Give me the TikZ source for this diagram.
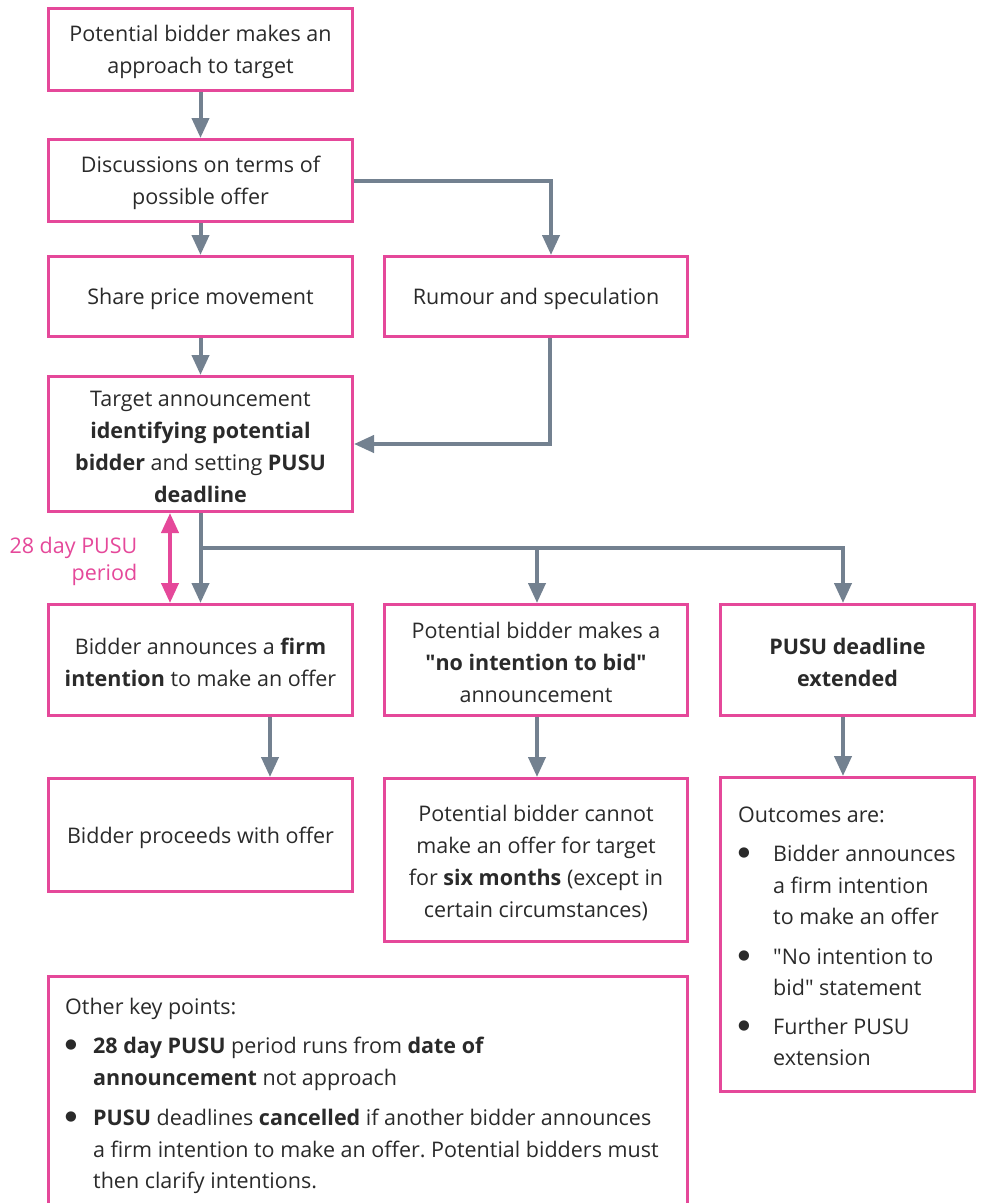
\documentclass[tikz,border=0pt]{standalone}
\usepackage{fontspec}
\setmainfont{Open Sans}
\newfontfamily\bulfont{DejaVu Sans}
\usetikzlibrary{arrows.meta}
\definecolor{pinkb}{HTML}{E5489A}
\definecolor{grayarrow}{HTML}{738190}
\definecolor{txt}{HTML}{2A2A2A}
\newcommand{\st}{\rule{0pt}{22pt}}
\newcommand{\bul}{\raisebox{5pt}{\bulfont\fontsize{13.5}{0}\selectfont ●}}
\newcommand{\qd}{\textquotedbl}
\frenchspacing
\begin{document}
\begin{tikzpicture}[x=1pt,y=-1pt,
  box/.style={draw=pinkb, line width=3pt, fill=white, align=center, inner sep=0pt,
    text=txt, font=\fontsize{21.5}{32}\selectfont},
  frame/.style={draw=pinkb, line width=3pt, fill=white, inner sep=0pt},
  listtext/.style={inner sep=0pt, text=txt, font=\fontsize{21.5}{31.5}\selectfont},
  conn/.style={draw=grayarrow, line width=4pt, -{Triangle[width=17pt,length=20pt]}},
  pinkarrow/.style={draw=pinkb, line width=4pt, {Triangle[width=17pt,length=20pt]}-{Triangle[width=17pt,length=20pt]}},
  pinklabel/.style={inner sep=0pt, text=pinkb, align=right, font=\fontsize{21.5}{27}\selectfont}
]
\useasboundingbox (0,0) rectangle (983,1203);
\fill[white] (0,0) rectangle (983,1203);

\coordinate (x170) at (170,0);
\coordinate (x270) at (270,0);
\coordinate (x537) at (537,0);
\coordinate (x550) at (550,0);
\coordinate (x551) at (551,0);
\coordinate (x843) at (843,0);

\node[box, minimum width=304, minimum height=82] (b1) at (200.5,49.5) {\st Potential bidder makes an\\approach to target};
\node[box, minimum width=304, minimum height=82] (b2) at (200.5,180.5) {\st Discussions on terms of\\possible offer};
\node[box, minimum width=304, minimum height=80] (b3) at (200.5,296.5) {\st Share price movement};
\node[box, minimum width=303, minimum height=80] (b4) at (536,296.5) {\st Rumour and speculation};
\node[box, minimum width=304, minimum height=135] (b5) at (200.5,444) {\st Target announcement\\\textbf{identifying potential}\\\textbf{bidder} and setting \textbf{PUSU}\\\textbf{deadline}};
\node[box, minimum width=304, minimum height=111] (b6) at (200.5,660) {\st Bidder announces a \textbf{firm}\\\textbf{intention} to make an offer};
\node[box, minimum width=303, minimum height=111] (b7) at (536,660) {\st Potential bidder makes a\\\textbf{\qd no intention to bid\qd}\\announcement};
\node[box, minimum width=254, minimum height=111] (b8) at (847.5,660) {\st\textbf{PUSU deadline}\\\textbf{extended}};
\node[box, minimum width=304, minimum height=113] (b9) at (200.5,835) {\st Bidder proceeds with offer};
\node[box, minimum width=303, minimum height=163] (b10) at (536,860) {\st Potential bidder cannot\\make an offer for target\\for \textbf{six months} (except in\\certain circumstances)};
\node[frame, minimum width=254, minimum height=314] (b11) at (847.5,934.5) {};
\node[listtext, anchor=west] (b11t) at (738,938) {%
\begin{tabular}{@{}p{35pt}@{}l@{}}
\multicolumn{2}{@{}l@{}}{Outcomes are:}\\[7.5pt]
\bul & Bidder announces\\
 & a firm intention\\
 & to make an offer\\[8pt]
\bul & \qd No intention to\\
 & bid\qd{} statement\\[7pt]
\bul & Further PUSU\\
 & extension
\end{tabular}};

\node[frame, anchor=north west, minimum width=639, minimum height=320] (b12) at (47,975) {};
\node[listtext, anchor=north west] (b12t) at (65,992) {%
\begin{tabular}{@{}p{28pt}@{}l@{}}
\multicolumn{2}{@{}l@{}}{Other key points:}\\[8pt]
\bul & \textbf{28 day PUSU} period runs from \textbf{date of}\\
 & \textbf{announcement} not approach\\[9pt]
\bul & \textbf{PUSU} deadlines \textbf{cancelled} if another bidder announces\\
 & a firm intention to make an offer. Potential bidders must\\
 & then clarify intentions.
\end{tabular}};

\node[pinklabel, anchor=north east] (lbl) at (137.5,537) {28 day PUSU\\period};

\draw[conn] (b1.south) -- (b2.north);
\draw[conn] (b2.south) -- (b3.north);
\draw[conn] (b2.east) -| (b4.north -| x551);
\draw[conn] (b3.south) -- (b5.north);
\draw[conn] (b4.south -| x550) |- (b5.east);
\draw[conn] (b5.south) -- (b6.north);
\coordinate (split) at (200.5,548);
\draw[conn] (split) -| (b8.north -| x843);
\draw[conn] (split -| x537) -- (b7.north -| x537);
\draw[pinkarrow] (b5.south -| x170) -- (b6.north -| x170);
\draw[conn] (b6.south -| x270) -- (b9.north -| x270);
\draw[conn] (b7.south -| x537) -- (b10.north -| x537);
\draw[conn] (b8.south -| x843) -- (b11.north -| x843);
\end{tikzpicture}
\end{document}
